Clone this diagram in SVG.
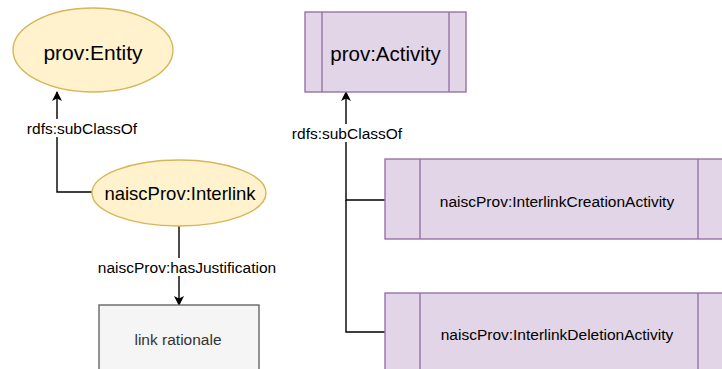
<svg xmlns="http://www.w3.org/2000/svg" width="722" height="369" viewBox="0 0 722 369">
<style>
.ent{fill:#fff2cc;stroke:#d6b656;stroke-width:1.4}
.act{fill:#e1d5e7;stroke:#9673a6;stroke-width:1.4}
.box{fill:#f5f5f5;stroke:#666666;stroke-width:1.4}
.t{font-family:"Liberation Sans",Arial,sans-serif;fill:#000;text-anchor:middle;dominant-baseline:central}
.lbl{font-size:15.5px}
.edge{fill:none;stroke:#000;stroke-width:1.4}
.bg{fill:#fff}
</style>
<defs>
<marker id="arr" viewBox="0 0 10 10" refX="9" refY="5" markerWidth="10" markerHeight="10" markerUnits="userSpaceOnUse" orient="auto">
<path d="M0,0 L10,5 L0,10 L2.5,5 Z" fill="#000"/>
</marker>
</defs>
<g id="connectors">
<path class="edge" d="M92,192 H57 V92" marker-end="url(#arr)"/>
<rect class="bg" x="25" y="119" width="115" height="18"/>
<text class="t lbl" x="82" y="128">rdfs:subClassOf</text>
<path class="edge" d="M179,226 V305" marker-end="url(#arr)"/>
<rect class="bg" x="94" y="258" width="186" height="18"/>
<text class="t lbl" x="187" y="267">naiscProv:hasJustification</text>
<path class="edge" d="M385,200 H346 V92" marker-end="url(#arr)"/>
<path class="edge" d="M385,332 H346 V200"/>
<rect class="bg" x="289" y="124" width="116" height="18"/>
<text class="t lbl" x="347" y="133">rdfs:subClassOf</text>
</g>
<g id="prov-entity">
<ellipse class="ent" cx="93" cy="50" rx="80" ry="42"/>
<text class="t" x="93" y="52" font-size="21">prov:Entity</text>
</g>
<g id="naisc-interlink">
<ellipse class="ent" cx="179" cy="193" rx="87" ry="33"/>
<text class="t" x="180" y="193" font-size="18.5">naiscProv:Interlink</text>
</g>
<g id="link-rationale">
<rect class="box" x="99" y="305" width="160" height="80"/>
<text class="t lbl" x="178" y="339" fill="#333333" style="fill:#333333">link rationale</text>
</g>
<g id="prov-activity">
<rect class="act" x="305" y="12" width="161" height="80"/>
<line class="act" x1="322" y1="12" x2="322" y2="92"/>
<line class="act" x1="449" y1="12" x2="449" y2="92"/>
<text class="t" x="385.5" y="53" font-size="20.5">prov:Activity</text>
</g>
<g id="creation-activity">
<rect class="act" x="385" y="159" width="348" height="80"/>
<line class="act" x1="420" y1="159" x2="420" y2="239"/>
<line class="act" x1="698" y1="159" x2="698" y2="239"/>
<text class="t lbl" x="557" y="201">naiscProv:InterlinkCreationActivity</text>
</g>
<g id="deletion-activity">
<rect class="act" x="385" y="293" width="348" height="80"/>
<line class="act" x1="420" y1="293" x2="420" y2="373"/>
<line class="act" x1="698" y1="293" x2="698" y2="373"/>
<text class="t lbl" x="557" y="334">naiscProv:InterlinkDeletionActivity</text>
</g>
</svg>
